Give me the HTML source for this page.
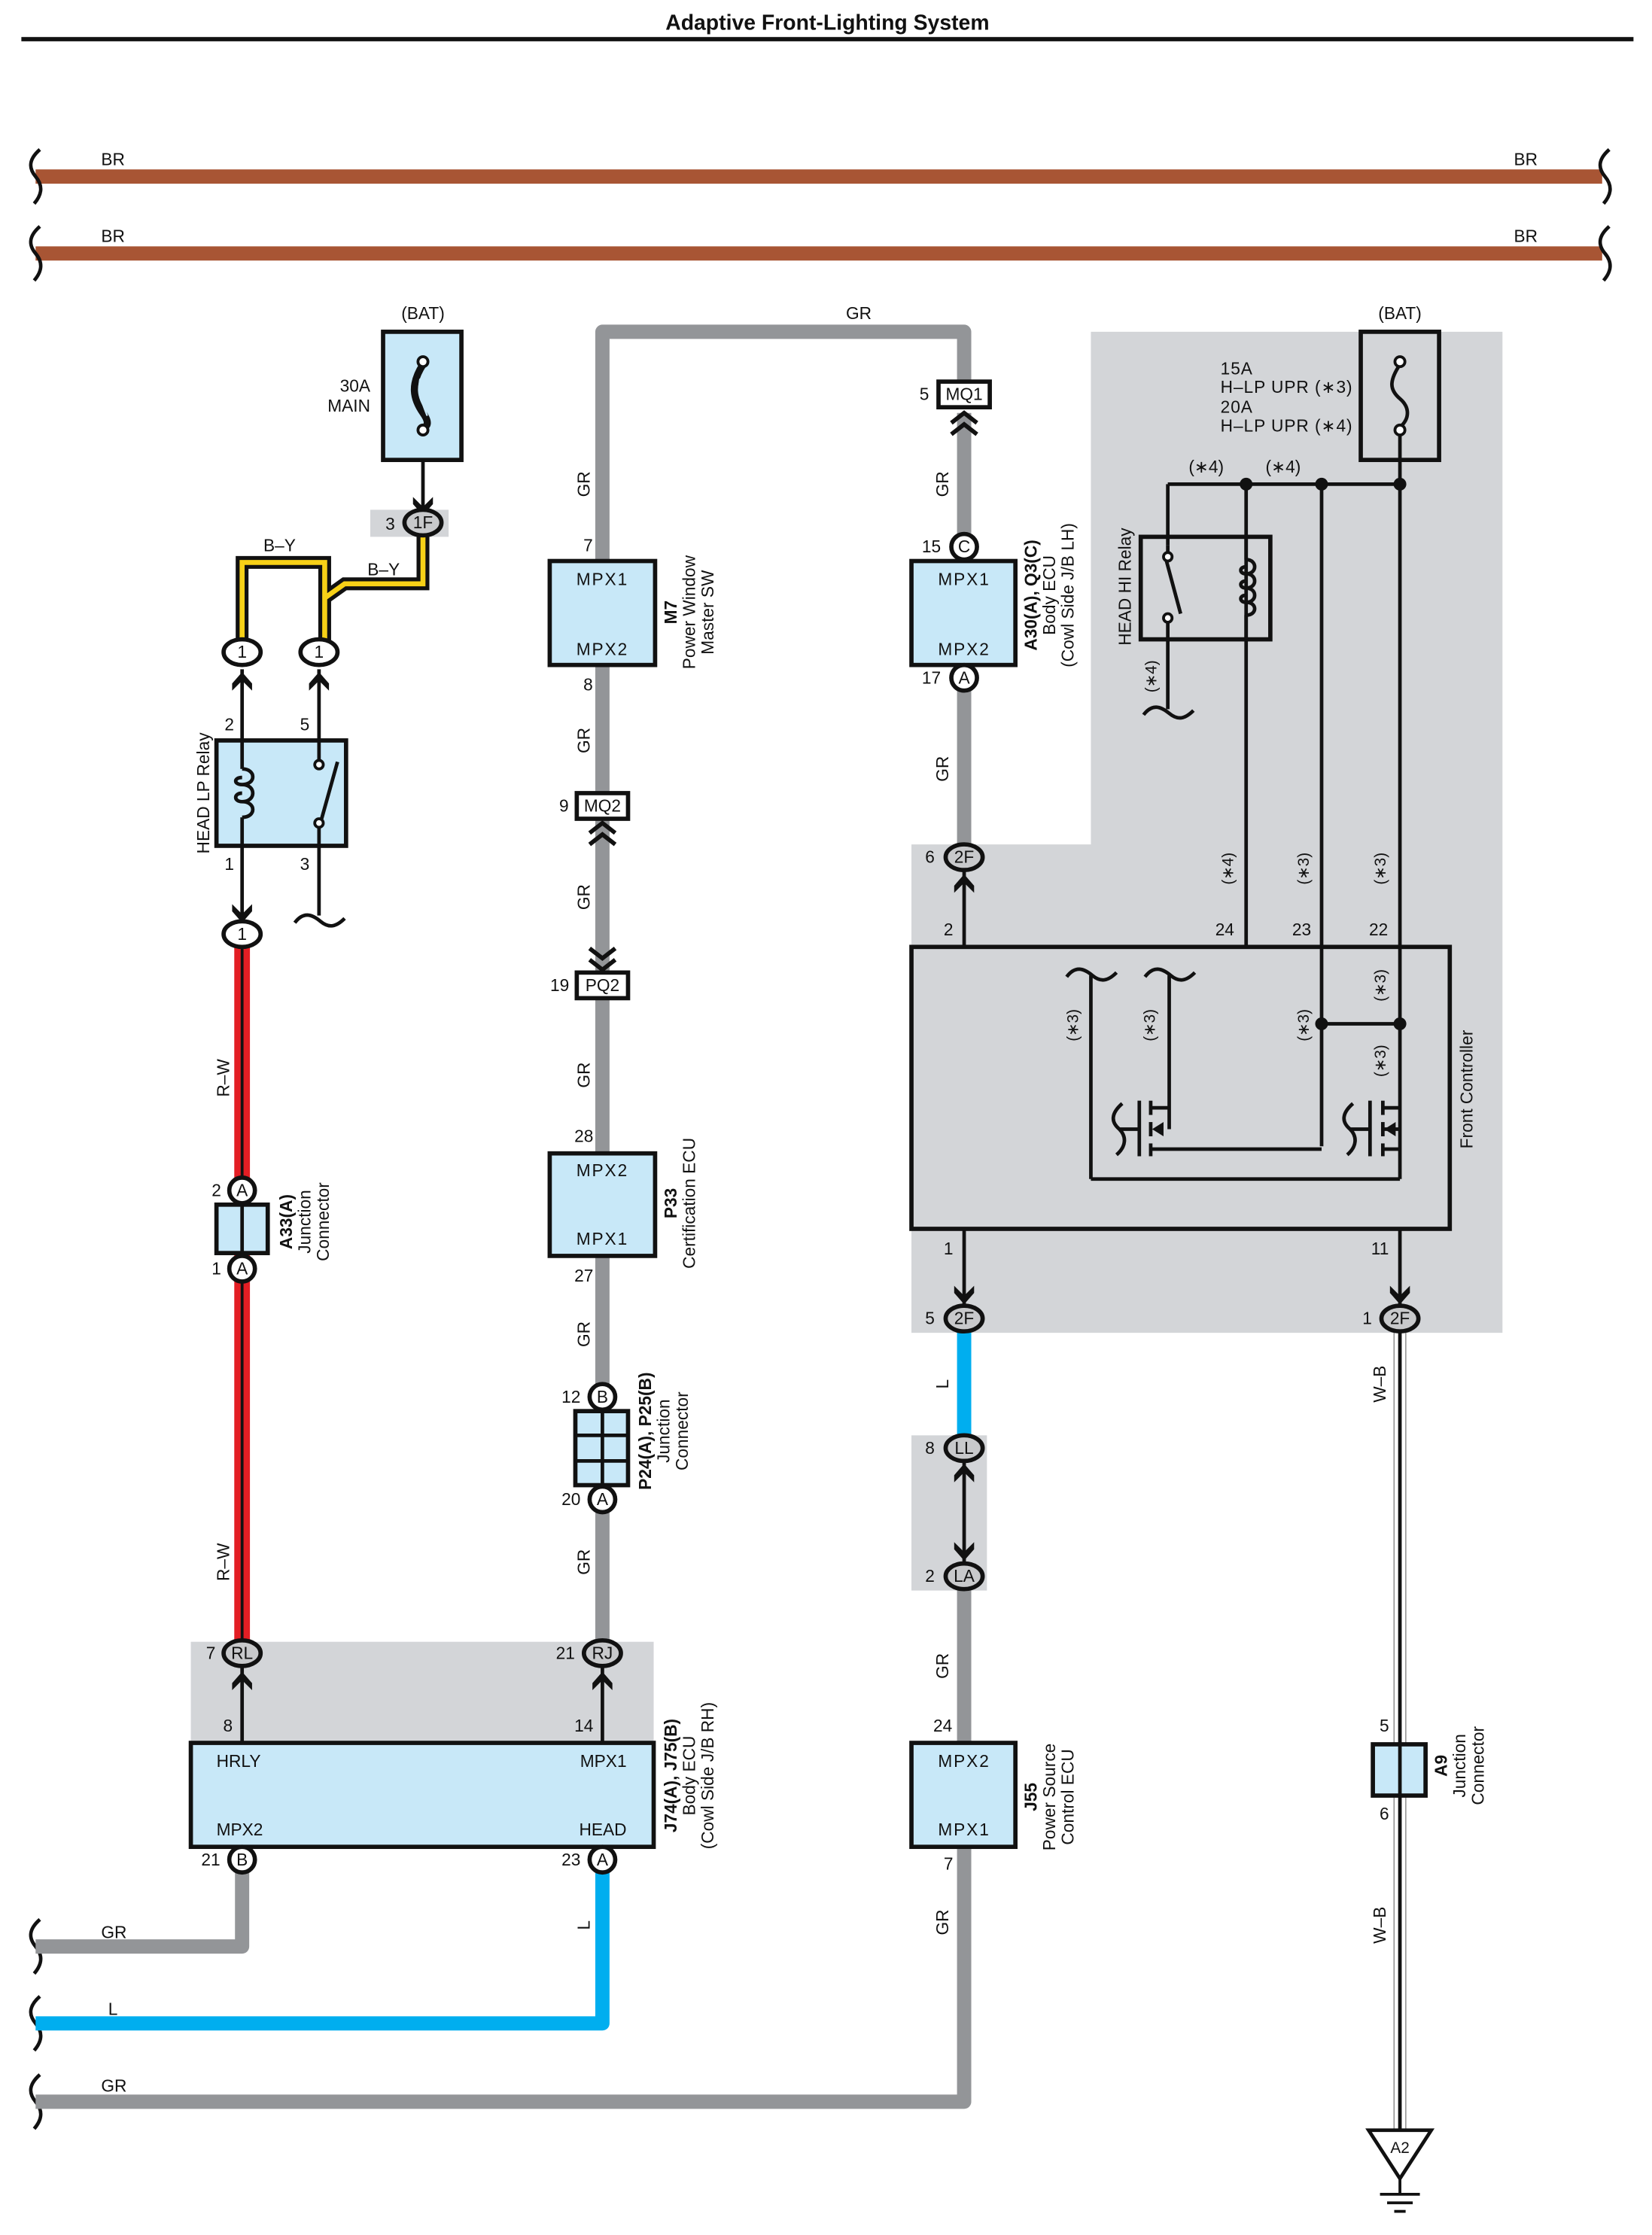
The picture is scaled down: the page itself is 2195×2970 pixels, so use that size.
<!DOCTYPE html>
<html><head><meta charset="utf-8"><style>
html,body{margin:0;padding:0;background:#fff}
svg{display:block}
text{font-family:"Liberation Sans",sans-serif;fill:#111}
</style></head><body>
<svg width="2195" height="2970" viewBox="0 0 1160 1569.6" preserveAspectRatio="none" xmlns="http://www.w3.org/2000/svg">
<defs>
<path id="chu" d="M-7 8 L0 0 L7 8 L7 13 L0 6 L-7 13 Z" fill="#111"/>
</defs>
<!-- title -->
<text x="581" y="21" font-size="15" font-weight="bold" text-anchor="middle">Adaptive Front-Lighting System</text>
<rect x="15" y="26" width="1132" height="3" fill="#111"/>

<!-- shaded regions -->
<path d="M766 233 H1055 V936 H640 V593 H766 Z" fill="#d3d5d8"/>
<rect x="640" y="1008" width="53" height="109" fill="#d3d5d8"/>
<rect x="134" y="1153" width="325" height="72" fill="#d3d5d8"/>
<rect x="260" y="358" width="55" height="19" fill="#d3d5d8"/>

<!-- BR wires -->
<g stroke="#a85534" stroke-width="10" fill="none">
<line x1="25" y1="124" x2="1125" y2="124"/>
<line x1="25" y1="178" x2="1125" y2="178"/>
</g>
<g stroke="#111" stroke-width="2.5" fill="none">
<path d="M28 105 C20 112,20 118,25 124 C30 130,30 136,24 143"/>
<path d="M1130 105 C1122 112,1122 118,1127 124 C1132 130,1132 136,1126 143"/>
<path d="M28 159 C20 166,20 172,25 178 C30 184,30 190,24 197"/>
<path d="M1130 159 C1122 166,1122 172,1127 178 C1132 184,1132 190,1126 197"/>
<path d="M28 1348 C20 1355,20 1361,25 1367 C30 1373,30 1379,24 1386"/>
<path d="M28 1402 C20 1409,20 1415,25 1421 C30 1427,30 1433,24 1440"/>
<path d="M28 1457 C20 1464,20 1470,25 1476 C30 1482,30 1488,24 1495"/>
</g>
<g font-size="12">
<text x="71" y="116">BR</text><text x="1063" y="116">BR</text>
<text x="71" y="170">BR</text><text x="1063" y="170">BR</text>
<text x="71" y="1361">GR</text><text x="76" y="1415">L</text><text x="71" y="1469">GR</text>
<text x="603" y="224" text-anchor="middle">GR</text>
</g>

<!-- gray wires -->
<g stroke="#939598" stroke-width="10" fill="none" stroke-linejoin="round">
<path d="M423 1160 V233 H677 V277"/>
<path d="M677 290 V602"/>
<path d="M677 1107 V1476 H25"/>
<path d="M170 1306 V1367 H25"/>
</g>
<g stroke="#00aeef" stroke-width="10" fill="none" stroke-linejoin="round">
<path d="M423 1306 V1421 H25"/>
<path d="M677 930 V1010"/>
</g>
<!-- red wire -->
<g fill="none">
<line x1="170" y1="662" x2="170" y2="1160" stroke="#e31e24" stroke-width="11"/>
<line x1="170" y1="662" x2="170" y2="1160" stroke="#111" stroke-width="2"/>
</g>
<!-- W-B wire -->
<line x1="983" y1="930" x2="983" y2="1498" stroke="#888" stroke-width="9"/>
<line x1="983" y1="930" x2="983" y2="1498" stroke="#fff" stroke-width="7.5"/>
<line x1="983" y1="930" x2="983" y2="1498" stroke="#111" stroke-width="2.5"/>
<!-- yellow B-Y -->
<g fill="none" stroke-linejoin="miter">
<path d="M170 455 V395 H228 V455 M228 420 L242 410 H297 V372" stroke="#111" stroke-width="9"/>
<path d="M170 455 V395 H228 V455 M228 420 L242 410 H297 V372" stroke="#f7d117" stroke-width="3.5"/>
</g>
<g font-size="12"><text x="185" y="387">B–Y</text><text x="258" y="404">B–Y</text></g>

<!-- thin black lines -->
<g stroke="#111" stroke-width="2.5" fill="none">
<line x1="297" y1="300" x2="297" y2="362"/>
<line x1="170" y1="470" x2="170" y2="648"/>
<line x1="224" y1="470" x2="224" y2="643"/>
<path d="M207 648 C213 640,219 642,225 647 C231 652,236 651,242 645"/>
<line x1="170" y1="1170" x2="170" y2="1224"/>
<line x1="423" y1="1170" x2="423" y2="1224"/>
<line x1="677" y1="612" x2="677" y2="665"/>
<line x1="677" y1="863" x2="677" y2="918"/>
<line x1="983" y1="863" x2="983" y2="918"/>
<line x1="677" y1="1026" x2="677" y2="1098"/>
<!-- right BAT section -->
<line x1="983" y1="300" x2="983" y2="828"/>
<line x1="820" y1="340" x2="983" y2="340"/>
<line x1="820" y1="340" x2="820" y2="383"/>
<line x1="820" y1="437" x2="820" y2="498"/>
<path d="M803 502 C809 494,815 496,821 501 C827 506,832 505,838 499"/>
<line x1="875" y1="340" x2="875" y2="665"/>
<line x1="928" y1="340" x2="928" y2="805"/>
<line x1="928" y1="719" x2="983" y2="719"/>
<!-- inside controller -->
<path d="M749 686 C755 678,761 680,767 685 C773 690,778 689,784 683"/>
<path d="M804 686 C810 678,816 680,822 685 C828 690,833 689,839 683"/>
<line x1="766" y1="685" x2="766" y2="828"/>
<line x1="766" y1="828" x2="983" y2="828"/>
<line x1="821" y1="685" x2="821" y2="793"/>
<line x1="808" y1="778" x2="821" y2="778"/>
<line x1="808" y1="807" x2="928" y2="807"/>
<line x1="800" y1="773" x2="800" y2="812"/>
<line x1="808" y1="773" x2="808" y2="783"/><line x1="808" y1="788" x2="808" y2="798"/><line x1="808" y1="803" x2="808" y2="812"/>
<line x1="786" y1="793" x2="800" y2="793"/>
<path d="M788 775 C780 782,780 788,786 793 C791 798,791 805,784 811"/>
<line x1="962" y1="773" x2="962" y2="812"/>
<line x1="971" y1="773" x2="971" y2="783"/><line x1="971" y1="788" x2="971" y2="798"/><line x1="971" y1="803" x2="971" y2="812"/>
<line x1="971" y1="778" x2="983" y2="778"/>
<line x1="971" y1="793" x2="983" y2="793"/>
<line x1="971" y1="807" x2="983" y2="807"/>
<line x1="948" y1="793" x2="962" y2="793"/>
<path d="M950 775 C942 782,942 788,948 793 C953 798,953 805,946 811"/>
</g>
<path d="M809 793 L817 788 L817 798 Z" fill="#111"/>
<path d="M972 793 L980 788 L980 798 Z" fill="#111"/>
<g fill="#111">
<circle cx="875" cy="340" r="4.5"/><circle cx="928" cy="340" r="4.5"/><circle cx="983" cy="340" r="4.5"/>
<circle cx="928" cy="719" r="4.5"/><circle cx="983" cy="719" r="4.5"/>
</g>

<!-- fuses -->
<rect x="269" y="233" width="55" height="90" fill="#c8e8f8" stroke="#111" stroke-width="3"/>
<path d="M297 256 C288 270,290 280,297 290 C302 297,300 300,297 300" fill="none" stroke="#111" stroke-width="5"/>
<path d="M295 266 C293 276,297 284,300 292" fill="none" stroke="#c8e8f8" stroke-width="1.2"/>
<circle cx="297" cy="254" r="3.5" fill="#fff" stroke="#111" stroke-width="2"/>
<circle cx="297" cy="302" r="3.5" fill="#fff" stroke="#111" stroke-width="2"/>
<rect x="955.5" y="233" width="55" height="90" fill="none" stroke="#111" stroke-width="3"/>
<path d="M983 256 C975 268,976 274,983 280 C990 286,990 294,983 300" fill="none" stroke="#111" stroke-width="2.5"/>
<circle cx="983" cy="254" r="3.5" fill="#fff" stroke="#111" stroke-width="2"/>
<circle cx="983" cy="302" r="3.5" fill="#fff" stroke="#111" stroke-width="2"/>
<g font-size="12">
<text x="297" y="224" text-anchor="middle">(BAT)</text>
<text x="983" y="224" text-anchor="middle">(BAT)</text>
<text x="260" y="275" text-anchor="end">30A</text>
<text x="260" y="289" text-anchor="end">MAIN</text>
<text x="857" y="263" letter-spacing="0.5">15A</text>
<text x="857" y="276" letter-spacing="0.5">H–LP UPR (∗3)</text>
<text x="857" y="290" letter-spacing="0.5">20A</text>
<text x="857" y="303" letter-spacing="0.5">H–LP UPR (∗4)</text>
<text x="847" y="332" text-anchor="middle">(∗4)</text>
<text x="901" y="332" text-anchor="middle">(∗4)</text>
</g>

<!-- HEAD LP relay -->
<rect x="152" y="520" width="91" height="74" fill="#c8e8f8" stroke="#111" stroke-width="3"/>
<g stroke="#111" stroke-width="2.5" fill="none">
<line x1="170" y1="520" x2="170" y2="540"/><line x1="170" y1="574" x2="170" y2="594"/>
<path d="M170 540 C180 540,180 551,170 551 C164 551,164 546,170 546 M170 551 C180 551,180 563,170 563 C164 563,164 557,170 557 M170 563 C180 563,180 574,170 574"/>
<line x1="224" y1="520" x2="224" y2="534"/>
<line x1="224" y1="580" x2="224" y2="594"/>
<line x1="225" y1="578" x2="237" y2="535"/>
</g>
<circle cx="224" cy="537" r="3" fill="#fff" stroke="#111" stroke-width="2"/>
<circle cx="224" cy="578" r="3" fill="#fff" stroke="#111" stroke-width="2"/>
<!-- HEAD HI relay -->
<rect x="801" y="377" width="91" height="72" fill="none" stroke="#111" stroke-width="3"/>
<g stroke="#111" stroke-width="2.5" fill="none">
<line x1="820" y1="383" x2="820" y2="389"/>
<line x1="818" y1="390" x2="829" y2="431"/>
<line x1="875" y1="377" x2="875" y2="393"/><line x1="875" y1="432" x2="875" y2="449"/>
<path d="M875 393 C883 393,883 403,875 403 C870 403,870 398,875 398 M875 403 C883 403,883 413,875 413 C870 413,870 408,875 408 M875 413 C883 413,883 423,875 423 C870 423,870 418,875 418 M875 423 C883 423,883 432,875 432"/>
</g>
<circle cx="820" cy="391" r="3" fill="#fff" stroke="#111" stroke-width="2"/>
<circle cx="820" cy="434" r="3" fill="#fff" stroke="#111" stroke-width="2"/>

<!-- boxes -->
<g fill="#c8e8f8" stroke="#111" stroke-width="3">
<rect x="386" y="394" width="74" height="73"/>
<rect x="640" y="394" width="73" height="73"/>
<rect x="386" y="810" width="74" height="72"/>
<rect x="134" y="1224" width="325" height="73"/>
<rect x="640" y="1224" width="73" height="73"/>
<rect x="152" y="846" width="36" height="34"/>
<rect x="404" y="991" width="37" height="52"/>
<rect x="964" y="1225" width="37" height="36"/>
</g>
<g stroke="#111" stroke-width="2.5">
<line x1="170" y1="846" x2="170" y2="880"/>
<line x1="983" y1="1225" x2="983" y2="1261"/>
<line x1="423" y1="991" x2="423" y2="1043"/>
<line x1="404" y1="1008" x2="441" y2="1008"/><line x1="404" y1="1026" x2="441" y2="1026"/>
</g>
<rect x="640" y="665" width="378" height="198" fill="none" stroke="#111" stroke-width="3"/>
<g font-size="12" letter-spacing="1" text-anchor="middle">
<text x="423" y="411">MPX1</text><text x="423" y="460">MPX2</text>
<text x="677" y="411">MPX1</text><text x="677" y="460">MPX2</text>
<text x="423" y="826">MPX2</text><text x="423" y="874">MPX1</text>
<text x="677" y="1241">MPX2</text><text x="677" y="1289">MPX1</text>
</g>
<g font-size="12">
<text x="152" y="1241">HRLY</text><text x="152" y="1289">MPX2</text>
<text x="440" y="1241" text-anchor="end">MPX1</text><text x="440" y="1289" text-anchor="end">HEAD</text>
</g>

<!-- ground -->
<path d="M961 1496 H1005 L983 1530 Z" fill="#fff" stroke="#111" stroke-width="2.5"/>
<text x="983" y="1512" font-size="11" text-anchor="middle">A2</text>
<g stroke="#111" stroke-width="2"><line x1="983" y1="1530" x2="983" y2="1541"/><line x1="969" y1="1541" x2="997" y2="1541"/><line x1="974" y1="1547" x2="992" y2="1547"/><line x1="979" y1="1553" x2="987" y2="1553"/></g>

<!-- arrowheads -->
<use href="#chu" x="170" y="472"/><use href="#chu" x="224" y="472"/>
<use href="#chu" x="297" y="362" transform="rotate(180 297 362)"/>
<use href="#chu" x="170" y="648" transform="rotate(180 170 648)"/>
<use href="#chu" x="170" y="1174"/><use href="#chu" x="423" y="1174"/>
<use href="#chu" x="677" y="614"/>
<use href="#chu" x="677" y="916" transform="rotate(180 677 916)"/>
<use href="#chu" x="983" y="916" transform="rotate(180 983 916)"/>
<use href="#chu" x="677" y="1028"/>
<use href="#chu" x="677" y="1096" transform="rotate(180 677 1096)"/>
<g stroke="#111" stroke-width="3" fill="none">
<path d="M668 297 L677 290 L686 297 M668 305 L677 298 L686 305"/>
<path d="M414 585 L423 578 L432 585 M414 593 L423 586 L432 593"/>
<path d="M414 666 L423 673 L432 666 M414 674 L423 681 L432 674"/>
</g>

<!-- connectors -->
<g stroke="#111" stroke-width="3">
<ellipse cx="297" cy="367" rx="13" ry="9" fill="#c8c9cb"/>
<ellipse cx="170" cy="458" rx="13" ry="9" fill="#fff"/>
<ellipse cx="224" cy="458" rx="13" ry="9" fill="#fff"/>
<ellipse cx="170" cy="656" rx="13" ry="9" fill="#fff"/>
<ellipse cx="170" cy="1161" rx="13" ry="9" fill="#c8c9cb"/>
<ellipse cx="423" cy="1161" rx="13" ry="9" fill="#c8c9cb"/>
<ellipse cx="677" cy="602" rx="13" ry="9" fill="#c8c9cb"/>
<ellipse cx="677" cy="926" rx="13" ry="9" fill="#c8c9cb"/>
<ellipse cx="983" cy="926" rx="13" ry="9" fill="#c8c9cb"/>
<ellipse cx="677" cy="1017" rx="13" ry="9" fill="#c8c9cb"/>
<ellipse cx="677" cy="1107" rx="13" ry="9" fill="#c8c9cb"/>
<circle cx="170" cy="836" r="9" fill="#fff"/>
<circle cx="170" cy="891" r="9" fill="#fff"/>
<circle cx="170" cy="1306" r="9" fill="#fff"/>
<circle cx="423" cy="1306" r="9" fill="#fff"/>
<circle cx="677" cy="384" r="9" fill="#fff"/>
<circle cx="677" cy="476" r="9" fill="#fff"/>
<circle cx="423" cy="981" r="9" fill="#fff"/>
<circle cx="423" cy="1053" r="9" fill="#fff"/>
<rect x="405" y="557" width="36" height="18" fill="#fff"/>
<rect x="405" y="683" width="36" height="18" fill="#fff"/>
<rect x="659" y="268" width="36" height="18" fill="#fff"/>
</g>
<g font-size="12" text-anchor="middle">
<text x="297" y="371">1F</text><text x="170" y="462">1</text><text x="224" y="462">1</text><text x="170" y="660">1</text>
<text x="170" y="1165">RL</text><text x="423" y="1165">RJ</text>
<text x="677" y="606">2F</text><text x="677" y="930">2F</text><text x="983" y="930">2F</text>
<text x="677" y="1021">LL</text><text x="677" y="1111">LA</text>
<text x="170" y="840">A</text><text x="170" y="895">A</text>
<text x="170" y="1310">B</text><text x="423" y="1310">A</text>
<text x="677" y="388">C</text><text x="677" y="480">A</text>
<text x="423" y="985">B</text><text x="423" y="1057">A</text>
<text x="423" y="570">MQ2</text><text x="423" y="696">PQ2</text><text x="677" y="281">MQ1</text>
</g>
<!-- pin numbers -->
<g font-size="12" text-anchor="middle">
<text x="274" y="372">3</text>
<text x="161" y="513">2</text><text x="214" y="513">5</text><text x="161" y="611">1</text><text x="214" y="611">3</text>
<text x="152" y="840">2</text><text x="152" y="895">1</text>
<text x="148" y="1165">7</text><text x="397" y="1165">21</text>
<text x="160" y="1216">8</text><text x="410" y="1216">14</text>
<text x="148" y="1310">21</text><text x="401" y="1310">23</text>
<text x="413" y="387">7</text><text x="413" y="485">8</text>
<text x="396" y="570">9</text><text x="393" y="696">19</text>
<text x="410" y="802">28</text><text x="410" y="900">27</text>
<text x="401" y="985">12</text><text x="401" y="1057">20</text>
<text x="649" y="281">5</text><text x="654" y="388">15</text><text x="654" y="480">17</text>
<text x="653" y="606">6</text><text x="666" y="657">2</text>
<text x="860" y="657">24</text><text x="914" y="657">23</text><text x="968" y="657">22</text>
<text x="666" y="881">1</text><text x="969" y="881">11</text>
<text x="653" y="930">5</text><text x="960" y="930">1</text>
<text x="653" y="1021">8</text><text x="653" y="1111">2</text>
<text x="662" y="1216">24</text><text x="666" y="1313">7</text>
<text x="972" y="1216">5</text><text x="972" y="1278">6</text>
</g>
<!-- rotated labels -->
<g font-size="12">
<text transform="translate(414,340) rotate(-90)" text-anchor="middle">GR</text>
<text transform="translate(414,520) rotate(-90)" text-anchor="middle">GR</text>
<text transform="translate(414,630) rotate(-90)" text-anchor="middle">GR</text>
<text transform="translate(414,755) rotate(-90)" text-anchor="middle">GR</text>
<text transform="translate(414,937) rotate(-90)" text-anchor="middle">GR</text>
<text transform="translate(414,1097) rotate(-90)" text-anchor="middle">GR</text>
<text transform="translate(414,1352) rotate(-90)" text-anchor="middle">L</text>
<text transform="translate(666,340) rotate(-90)" text-anchor="middle">GR</text>
<text transform="translate(666,540) rotate(-90)" text-anchor="middle">GR</text>
<text transform="translate(666,972) rotate(-90)" text-anchor="middle">L</text>
<text transform="translate(666,1170) rotate(-90)" text-anchor="middle">GR</text>
<text transform="translate(666,1350) rotate(-90)" text-anchor="middle">GR</text>
<text transform="translate(161,757) rotate(-90)" text-anchor="middle">R–W</text>
<text transform="translate(161,1097) rotate(-90)" text-anchor="middle">R–W</text>
<text transform="translate(973,972) rotate(-90)" text-anchor="middle">W–B</text>
<text transform="translate(973,1352) rotate(-90)" text-anchor="middle">W–B</text>
<text transform="translate(147,557) rotate(-90)" text-anchor="middle">HEAD LP Relay</text>
<text transform="translate(794,412) rotate(-90)" text-anchor="middle">HEAD HI Relay</text>
<text transform="translate(1034,765) rotate(-90)" text-anchor="middle">Front Controller</text>
</g>
<g font-size="11" text-anchor="middle">
<text transform="translate(812,475) rotate(-90)">(∗4)</text>
<text transform="translate(866,610) rotate(-90)">(∗4)</text>
<text transform="translate(919,610) rotate(-90)">(∗3)</text>
<text transform="translate(973,610) rotate(-90)">(∗3)</text>
<text transform="translate(757,720) rotate(-90)">(∗3)</text>
<text transform="translate(811,720) rotate(-90)">(∗3)</text>
<text transform="translate(919,720) rotate(-90)">(∗3)</text>
<text transform="translate(973,692) rotate(-90)">(∗3)</text>
<text transform="translate(973,745) rotate(-90)">(∗3)</text>
</g>
<g font-size="12">
<g transform="translate(475,430) rotate(-90)" text-anchor="middle"><text y="0" font-weight="bold">M7</text><text y="13">Power Window</text><text y="26">Master SW</text></g>
<g transform="translate(475,845) rotate(-90)" text-anchor="middle"><text y="0" font-weight="bold">P33</text><text y="13">Certification ECU</text></g>
<g transform="translate(457,1005) rotate(-90)" text-anchor="middle"><text y="0" font-weight="bold">P24(A), P25(B)</text><text y="13">Junction</text><text y="26">Connector</text></g>
<g transform="translate(475,1247) rotate(-90)" text-anchor="middle"><text y="0" font-weight="bold">J74(A), J75(B)</text><text y="13">Body ECU</text><text y="26">(Cowl Side J/B RH)</text></g>
<g transform="translate(205,858) rotate(-90)" text-anchor="middle"><text y="0" font-weight="bold">A33(A)</text><text y="13">Junction</text><text y="26">Connector</text></g>
<g transform="translate(728,418) rotate(-90)" text-anchor="middle"><text y="0" font-weight="bold">A30(A), Q3(C)</text><text y="13">Body ECU</text><text y="26">(Cowl Side J/B LH)</text></g>
<g transform="translate(728,1262) rotate(-90)" text-anchor="middle"><text y="0" font-weight="bold">J55</text><text y="13">Power Source</text><text y="26">Control ECU</text></g>
<g transform="translate(1016,1240) rotate(-90)" text-anchor="middle"><text y="0" font-weight="bold">A9</text><text y="13">Junction</text><text y="26">Connector</text></g>
</g>
</svg>
</body></html>
